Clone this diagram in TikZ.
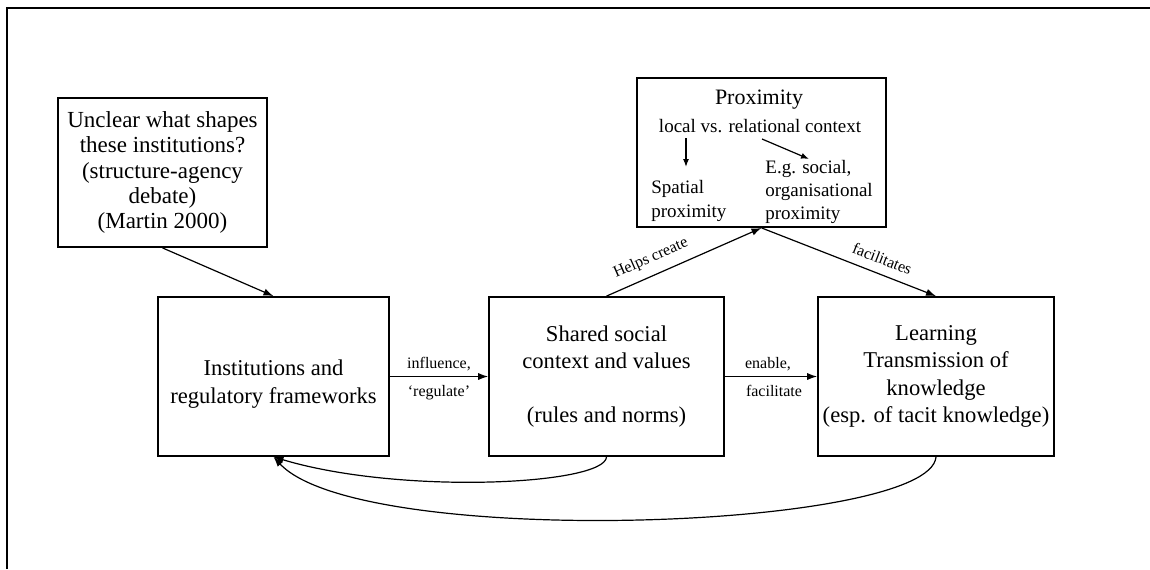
\documentclass[tikz,border=0pt]{standalone}
\usepackage{fontspec}
\setmainfont{Liberation Serif}
\usetikzlibrary{arrows.meta}
\begin{document}
\begin{tikzpicture}[x=0.5pt,y=-0.5pt,
  box/.style={draw, line width=0.9pt, inner sep=0pt, align=center,
    font=\fontsize{11.3}{13.6}\selectfont},
  plain/.style={inner sep=0pt, align=center},
  conn/.style={line width=0.6pt, -{Latex[length=5pt,width=3.6pt]}},
  lbl/.style={font=\fontsize{8}{9}\selectfont, inner sep=1pt},
  small/.style={font=\fontsize{9.5}{11.6}\selectfont, inner sep=0pt},
 ]
\useasboundingbox (0,0) rectangle (1150,569);
% outer frame
\draw[line width=1pt] (7,569) -- (7,8) -- (1150,8);

% main row
\node[box, minimum width=115.5pt, minimum height=79.5pt] (inst) at (273.5,376.5) {};
\node[plain, font=\fontsize{11.3}{13.6}\selectfont] (instT) at (273.5,384) {Institutions and\\regulatory frameworks};
\node[box, minimum width=117.5pt, minimum height=79.5pt] (shared) at (606.5,376.5)
  {Shared social\\context and values\\\mbox{}\\(rules and norms)};
\node[box, minimum width=118pt, minimum height=79.5pt] (learn) at (936,376.5)
  {Learning\\Transmission of\\knowledge\\(esp. of tacit knowledge)};

% upper boxes
\node[box, minimum width=104.5pt, minimum height=74.5pt,
  font=\fontsize{11.5}{12.6}\selectfont] (unclear) at (162.5,172.5)
  {Unclear what shapes\\these institutions?\\(structure-agency\\debate)\\(Martin 2000)};
\node[box, minimum width=124.5pt, minimum height=74.5pt] (prox) at (761.5,152.5) {};
\node[plain, font=\fontsize{11}{13}\selectfont] (proxT) at (759,100) {Proximity};
\node[small] (proxS) at (760,126) {local vs. relational context};
\node[small, anchor=west, align=left] (spatial) at (651,201) {Spatial\\proximity};
\node[small, anchor=west, align=left] (eg) at (765,192) {E.g. social,\\organisational\\proximity};
\coordinate (d1) at (686,138);
\coordinate (d2) at (686,167);
\coordinate (r1) at (762,139);
\coordinate (r2) at (809,159);
\draw[conn, -{Latex[length=4pt,width=3pt]}] (d1) -- (d2);
\draw[conn, -{Latex[length=4pt,width=3pt]}] (r1) -- (r2);

% connectors
\draw[conn] (unclear.south) -- (inst.north);
\draw[conn] (inst.east) -- node[lbl, above=1.5pt] {influence,}
  node[lbl, below=3pt] {`regulate'} (shared.west);
\draw[conn] (shared.east) -- node[lbl, above=1.5pt, xshift=-1.5pt] {enable,}
  node[lbl, below=3pt, xshift=1.5pt] {facilitate} (learn.west);
\draw[conn] (shared.north) -- node[lbl, sloped, above=3.5pt, pos=0.33] {Helps create} (prox.south);
\draw[conn] (prox.south) -- node[lbl, sloped, above=3.5pt, pos=0.66] {facilitates} (learn.north);

% feedback loops
\draw[conn] (shared.south) .. controls (605,485) and (400,495) .. (inst.south);
\draw[conn] (learn.south) .. controls (930,530) and (360,550) .. (inst.south);
\end{tikzpicture}
\end{document}
